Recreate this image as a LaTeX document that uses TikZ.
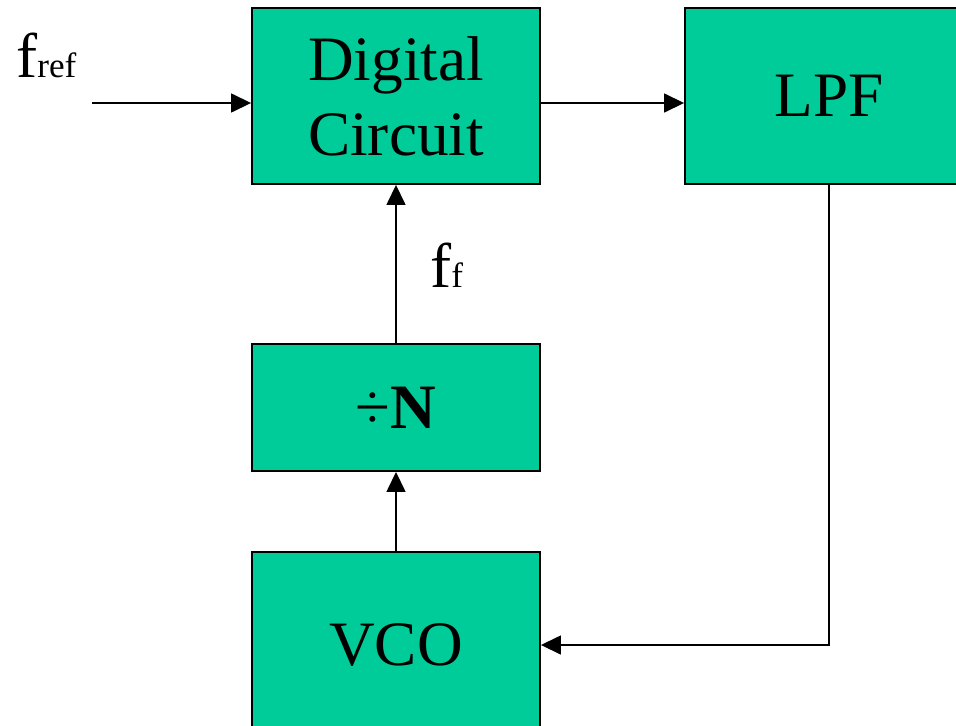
\documentclass[tikz,border=0pt]{standalone}
\usepackage{fontspec}
\setmainfont{Liberation Serif}
\usetikzlibrary{arrows.meta}

\definecolor{pllGreen}{HTML}{00CC99}

\begin{document}
\begin{tikzpicture}[x=0.02cm,y=0.02cm,
    font=\fontsize{36}{42.7}\selectfont,
    block/.style={draw,line width=1.1pt,fill=pllGreen,inner sep=0pt,
      minimum width=5.76cm,align=center},
    arr/.style={line width=0.85pt,-{Triangle[length=0.4cm,width=0.38cm]}}]
  \useasboundingbox (0,0) rectangle (956,725);
  \clip (0,0) rectangle (956,725);

  % blocks
  \node[block,minimum height=3.52cm] (dc) at (396,629) {Digital\\Circuit};
  \node[block,minimum height=3.52cm] (lpf) at (829,629) {LPF};
  \node[block,minimum height=2.54cm] (divn) at (396,317.5) {÷\textbf{N}};
  \node[block,minimum height=3.72cm] (vco) at (396,80) {VCO};

  % input
  \coordinate (fin) at (92,622);
  \node[anchor=base west,inner sep=0pt] (fref) at (16,647) {f{\fontsize{20}{24}\selectfont ref}};
  \node[anchor=base west,inner sep=0pt] (ff) at (430,438) {f{\fontsize{20}{24}\selectfont f}};

  % connectors
  \draw[arr] (fin) -- (fin -| dc.west);
  \draw[arr] (dc.east |- fin) -- (fin -| lpf.west);
  \draw[arr] (lpf.south) |- (vco.east);
  \draw[arr] (vco.north) -- (divn.south);
  \draw[arr] (divn.north) -- (dc.south);
\end{tikzpicture}
\end{document}
